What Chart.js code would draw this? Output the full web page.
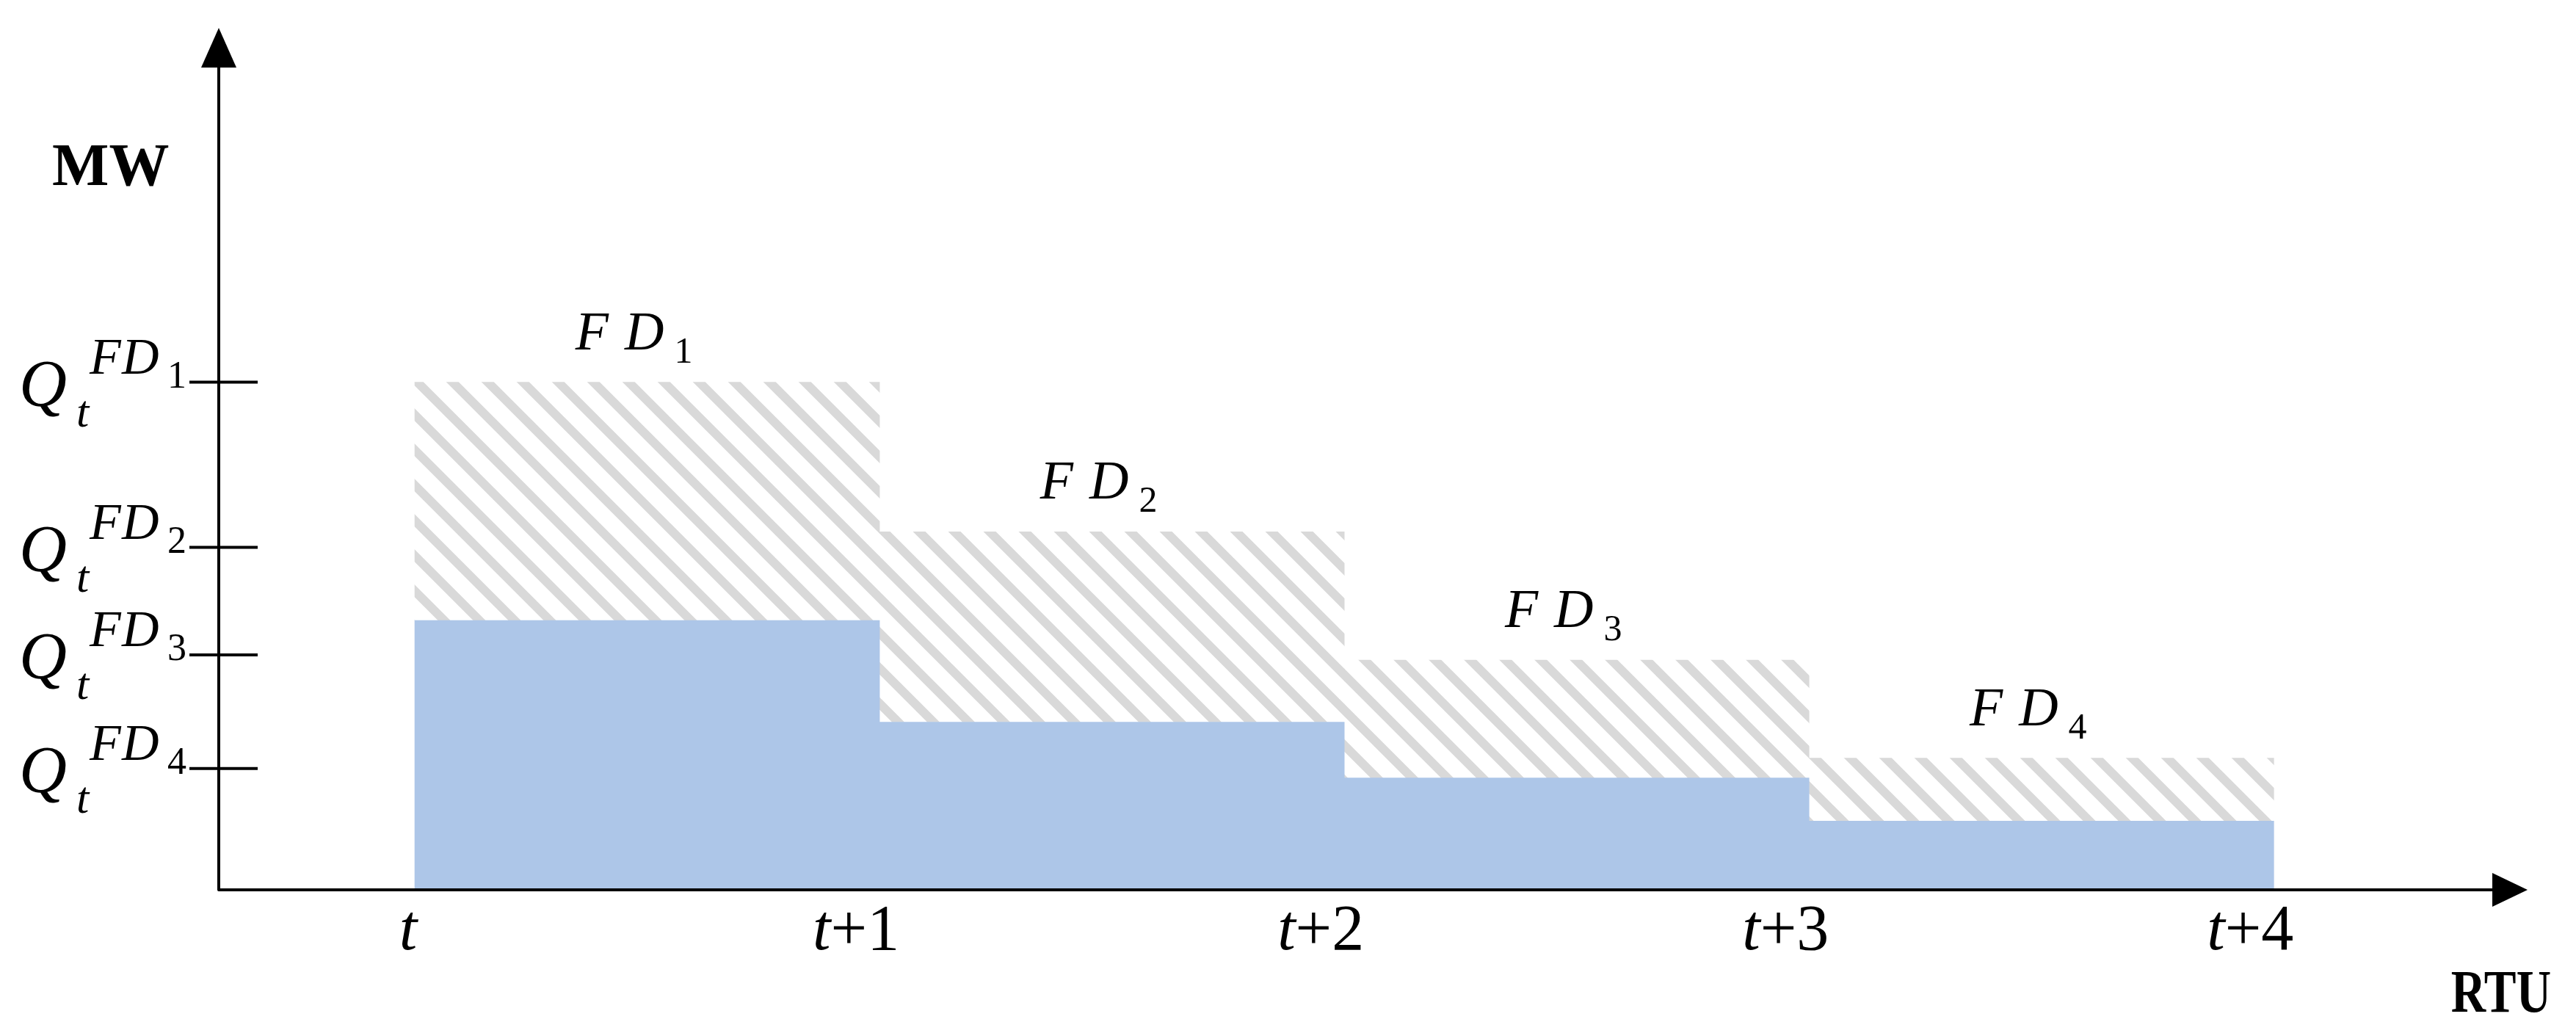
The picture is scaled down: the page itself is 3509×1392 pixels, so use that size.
<!DOCTYPE html>
<html>
<head>
<meta charset="utf-8">
<script src="https://cdn.jsdelivr.net/npm/chart.js@4.4.0/dist/chart.umd.min.js"></script>
<style>
  html, body { margin: 0; padding: 0; background: #fff; }
  #wrap { width: 3509px; height: 1392px; }
</style>
</head>
<body>
<div id="wrap"><canvas id="rtuChart" width="3509" height="1392"></canvas></div>
<script>
// boundaries of the real-time units on the x axis
var periods = ['t', 't+1', 't+2', 't+3', 't+4'];
var periodPos = [0, 1, 2, 3, 4];
// the four flexibility blocks sit between the boundaries
var blockPos = [0.5, 1.5, 2.5, 3.5];
var blockIdx = ['1', '2', '3', '4'];
// MW levels (axis 0..100 = x axis .. arrow tip)
var fdTop = [59.0, 41.6, 26.7, 15.3];
var baseMW = [31.3, 19.5, 13.0, 8.0];
var qTicks = [59.0, 39.8, 27.3, 14.1];

var serif = '"Liberation Serif", "Times New Roman", serif';

function hatch() {
	var tile = document.createElement('canvas');
	tile.width = 48;
	tile.height = 48;
	var c = tile.getContext('2d');
	c.strokeStyle = '#d9d9d9';
	c.lineWidth = 12;
	for (var k = -1; k <= 1; k++) {
		c.beginPath();
		c.moveTo(k * 48 - 6, -6);
		c.lineTo(k * 48 + 54, 54);
		c.stroke();
	}
	return c.createPattern(tile, 'repeat');
}

function qLabel(ctx, py, idx) {
	ctx.textAlign = 'left';
	ctx.font = 'italic 90px ' + serif;
	ctx.fillText('Q', 26, py + 32);
	ctx.font = 'italic 62px ' + serif;
	ctx.fillText('t', 104, py + 60);
	ctx.font = 'italic 70px ' + serif;
	ctx.fillText('F', 122, py - 12);
	ctx.fillText('D', 166, py - 12);
	ctx.font = '52px ' + serif;
	ctx.fillText(idx, 228, py + 7);
}

function fdLabel(ctx, cx, base, idx) {
	ctx.textAlign = 'left';
	ctx.font = 'italic 74px ' + serif;
	var wF = ctx.measureText('F').width;
	var wD = ctx.measureText('D').width;
	ctx.font = '50px ' + serif;
	var wN = ctx.measureText(idx).width;
	var gap1 = 22, gap2 = 14;
	var total = wF + gap1 + wD + gap2 + wN;
	var left = cx - total / 2;
	ctx.font = 'italic 74px ' + serif;
	ctx.fillText('F', left, base);
	ctx.fillText('D', left + wF + gap1, base);
	ctx.font = '50px ' + serif;
	ctx.fillText(idx, left + wF + gap1 + wD + gap2, base + 18);
}

function tickLabel(ctx, cx, base, txt) {
	var head = txt.charAt(0), rest = txt.substring(1);
	ctx.textAlign = 'left';
	ctx.font = 'italic 88px ' + serif;
	var w1 = ctx.measureText(head).width;
	ctx.font = '88px ' + serif;
	var w2 = ctx.measureText(rest).width;
	var left = cx - (w1 + w2) / 2;
	ctx.font = 'italic 88px ' + serif;
	ctx.fillText(head, left, base);
	ctx.font = '88px ' + serif;
	ctx.fillText(rest, left + w1, base);
}

var axisPlugin = {
	id: 'axisArrows',
	afterDatasetsDraw: function (chart) {
		var ctx = chart.ctx;
		var area = chart.chartArea;
		var x = chart.scales.x, y = chart.scales.y;
		var x0 = area.left, y0 = y.getPixelForValue(0);

		ctx.save();
		ctx.strokeStyle = '#000';
		ctx.fillStyle = '#000';
		ctx.lineWidth = 4;
		ctx.lineJoin = 'round';

		// axes
		ctx.beginPath();
		ctx.moveTo(x0, area.top + 50);
		ctx.lineTo(x0, y0);
		ctx.lineTo(area.right - 46, y0);
		ctx.stroke();

		// arrow heads
		ctx.beginPath();
		ctx.moveTo(x0, area.top - 2);
		ctx.lineTo(x0 + 24, area.top + 52);
		ctx.lineTo(x0 - 24, area.top + 52);
		ctx.closePath();
		ctx.fill();
		ctx.beginPath();
		ctx.moveTo(area.right - 12, y0);
		ctx.lineTo(area.right - 60, y0 - 23);
		ctx.lineTo(area.right - 60, y0 + 23);
		ctx.closePath();
		ctx.fill();

		// y ticks with Q labels
		qTicks.forEach(function (v, i) {
			var py = y.getPixelForValue(v);
			ctx.beginPath();
			ctx.moveTo(x0 - 40, py);
			ctx.lineTo(x0 + 53, py);
			ctx.stroke();
			qLabel(ctx, py, blockIdx[i]);
		});

		// x tick labels
		periodPos.forEach(function (v, i) {
			var shift = periods[i].length > 1 ? -32 : -9;
			tickLabel(ctx, x.getPixelForValue(v) + shift, y0 + 81, periods[i]);
		});

		// block labels
		blockPos.forEach(function (v, i) {
			fdLabel(ctx, x.getPixelForValue(v) - 18, y.getPixelForValue(fdTop[i]) - 45, blockIdx[i]);
		});

		// axis names
		ctx.font = 'bold 82px ' + serif;
		ctx.textAlign = 'left';
		ctx.fillText('MW', 71, 252);
		ctx.save();
		ctx.translate(3475, 1378);
		ctx.scale(0.8, 1);
		ctx.textAlign = 'right';
		ctx.font = 'bold 82px ' + serif;
		ctx.fillText('RTU', 0, 0);
		ctx.restore();
		ctx.restore();
	}
};

var ctx = document.getElementById('rtuChart');
var rtuChart = new Chart(ctx, {
	type: 'bar',
	data: {
		datasets: [{
			label: 'base',
			data: blockPos.map(function (p, i) { return {x: p, y: [0, baseMW[i]]}; }),
			backgroundColor: '#adc6e8',
			borderWidth: 0,
			grouped: false,
			barPercentage: 1,
			categoryPercentage: 1,
			order: 0
		}, {
			label: 'flex',
			data: blockPos.map(function (p, i) { return {x: p, y: [baseMW[i], fdTop[i]]}; }),
			backgroundColor: hatch(),
			borderWidth: 0,
			grouped: false,
			barPercentage: 1,
			categoryPercentage: 1,
			order: 1
		}]
	},
	options: {
		responsive: false,
		animation: false,
		devicePixelRatio: 1,
		layout: {
			padding: {left: 298, right: 54, top: 40, bottom: 180}
		},
		plugins: {
			legend: {display: false},
			tooltip: {enabled: false}
		},
		scales: {
			x: {
				type: 'linear',
				display: false,
				offset: false,
				min: -0.4218,
				max: 4.565,
				afterBuildTicks: function (scale) {
					scale.ticks = periodPos.map(function (v) { return {value: v}; });
				}
			},
			y: {
				type: 'linear',
				display: false,
				min: 0,
				max: 100
			}
		}
	},
	plugins: [axisPlugin]
});
</script>
</body>
</html>
